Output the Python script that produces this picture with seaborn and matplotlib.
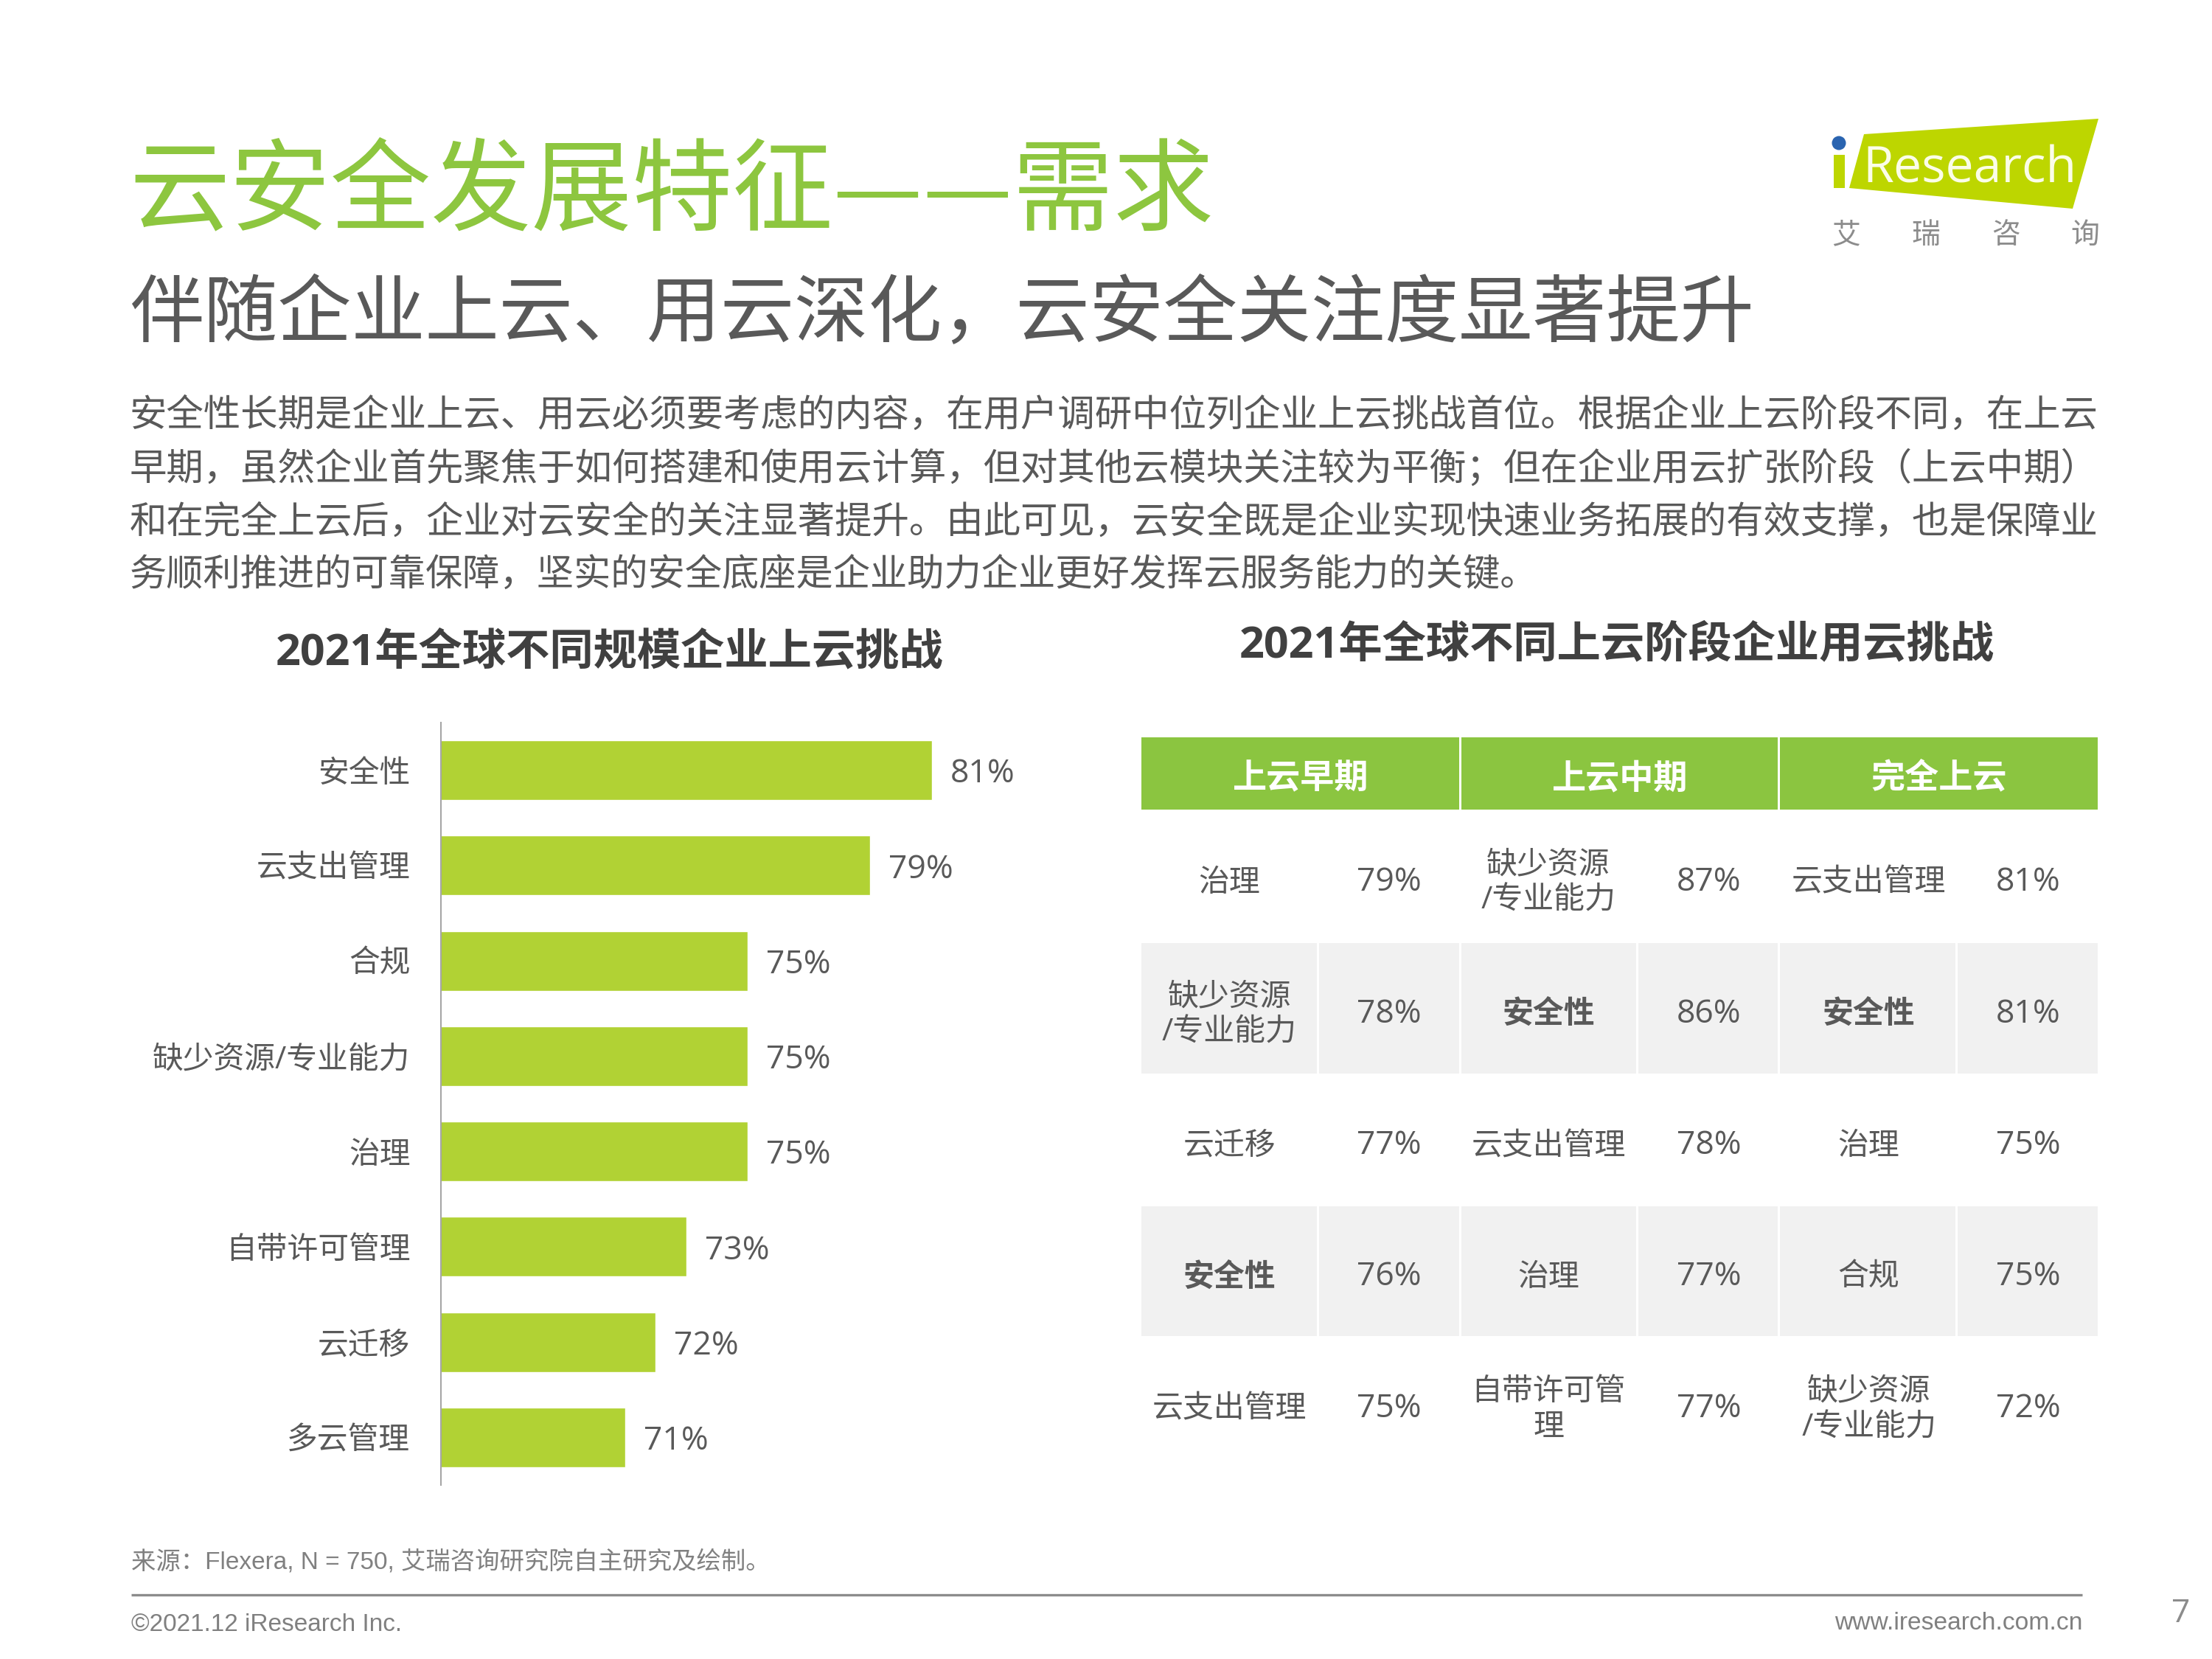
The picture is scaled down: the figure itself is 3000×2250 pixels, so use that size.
import matplotlib
matplotlib.use("Agg")
import matplotlib.pyplot as plt
from matplotlib.patches import Rectangle, Polygon, Circle
import seaborn as sns

sns.set_theme(style="white")
CJK = ['Open Sans', 'Noto Sans CJK SC', 'DejaVu Sans']
ARIAL = ['Liberation Sans', 'Noto Sans CJK SC', 'DejaVu Sans']
plt.rcParams['font.family'] = CJK

# ---------- data ----------
title = "云安全发展特征——需求"
subtitle = "伴随企业上云、用云深化，云安全关注度显著提升"
paragraph = [
    "安全性长期是企业上云、用云必须要考虑的内容，在用户调研中位列企业上云挑战首位。根据企业上云阶段不同，在上云",
    "早期，虽然企业首先聚焦于如何搭建和使用云计算，但对其他云模块关注较为平衡；但在企业用云扩张阶段（上云中期）",
    "和在完全上云后，企业对云安全的关注显著提升。由此可见，云安全既是企业实现快速业务拓展的有效支撑，也是保障业",
    "务顺利推进的可靠保障，坚实的安全底座是企业助力企业更好发挥云服务能力的关键。",
]
left_title = "2021年全球不同规模企业上云挑战"
right_title = "2021年全球不同上云阶段企业用云挑战"
categories = ["安全性", "云支出管理", "合规", "缺少资源/专业能力", "治理", "自带许可管理", "云迁移", "多云管理"]
values = [81, 79, 75, 75, 75, 73, 72, 71]

stages = ["上云早期", "上云中期", "完全上云"]
early_items = ["治理", "缺少资源\n/专业能力", "云迁移", "安全性", "云支出管理"]
early_pct = [79, 78, 77, 76, 75]
mid_items = ["缺少资源\n/专业能力", "安全性", "云支出管理", "治理", "自带许可管\n理"]
mid_pct = [87, 86, 78, 77, 77]
full_items = ["云支出管理", "安全性", "治理", "合规", "缺少资源\n/专业能力"]
full_pct = [81, 81, 75, 75, 72]

source = "来源：Flexera, N = 750, 艾瑞咨询研究院自主研究及绘制。"
copyright_text = "©2021.12 iResearch Inc."
website = "www.iresearch.com.cn"
page = "7"

# ---------- colours ----------
TITLE_GREEN = "#8dc63f"
DARK = "#595959"
HEAD = "#404040"
BAR = "#b1d234"
HEADER = "#8bc540"
ROW = "#f1f1f1"
FOOT = "#808080"

# ---------- canvas ----------
W, H = 3000, 2250
fig = plt.figure(figsize=(W / 100, H / 100), dpi=100, facecolor="white")
bg = fig.add_axes([0, 0, 1, 1], zorder=0)
bg.set_xlim(0, W)
bg.set_ylim(H, 0)
bg.axis("off")


def T(x, y, s, size, color=DARK, ha="left", va="center", weight="normal", family=None, fit=None, **kw):
    t = bg.text(x, y, s, fontsize=size, color=color, ha=ha, va=va, weight=weight,
                family=family if family else CJK, **kw)
    if fit:
        r = fig.canvas.get_renderer()
        w = t.get_window_extent(r).width
        t.set_fontsize(size * fit / w)
    return t


# ---------- header text ----------
T(175, 264, title, 96, TITLE_GREEN, fit=1472, family=['Noto Sans CJK SC', 'DejaVu Sans'])
T(176, 430, subtitle, 72, DARK, fit=2204)
for y, line, fit in zip([565, 637, 710, 781], paragraph, [2672, 2672, 2672, None]):
    T(176, y, line, 36.2, DARK, fit=fit)
T(827, 886, left_title, 42.7, HEAD, ha="center", weight="bold")
T(2193, 876, right_title, 42.7, HEAD, ha="center", weight="bold")

# ---------- logo ----------
bg.add_patch(Polygon([(2528, 182), (2846, 161), (2811, 283), (2508, 255)], closed=True, fc="#bdd600", ec="none"))
bg.add_patch(Rectangle((2487, 210), 15, 45, fc="#bdd600", ec="none"))
bg.add_patch(Circle((2494, 194), 9.5, fc="#2a64b0", ec="none"))
T(2526, 247, "Research", 49, "#fbfde8", va="baseline", family=['Open Sans'], fit=290)
for x, ch in zip([2504, 2612, 2721, 2828], "艾瑞咨询"):
    T(x, 319, ch, 28, "#8c8c8c", ha="center", family=['Noto Sans CJK SC'])

# ---------- bar chart ----------
left, right, top, bottom = 598, 598 + 41.6 * 17, 980, 2014
ax = fig.add_axes([left / W, 1 - bottom / H, (right - left) / W, (bottom - top) / H], zorder=2)
ax.patch.set_alpha(0)
sns.barplot(x=values, y=categories, color=BAR, saturation=1, width=0.625, ax=ax, orient="h")
ax.set_xlim(65, 82)
ax.set_ylim(len(categories) - 0.5, -0.5)
for c in ax.containers:
    labels = ax.bar_label(c, labels=[f"{v}%" for v in values], padding=18, fontsize=32, color=DARK, family=CJK)
    for t in labels:
        t.xyann = (18, -4)
ax.set_xticks([])
ax.set_xlabel("")
ax.set_ylabel("")
ax.tick_params(axis="y", length=0, pad=30, labelsize=30.1, labelcolor=DARK)
sns.despine(ax=ax, top=True, right=True, bottom=True, left=False)
ax.spines["left"].set_color("#a6a6a6")
ax.spines["left"].set_linewidth(1.5)

# ---------- table ----------
col_edges = [1548, 1787, 1980, 2220, 2412, 2653, 2845]
row_edges = [1098, 1279, 1456, 1636, 1812, 1990]
gap = 3
for i, stage in enumerate(stages):
    x0, x1 = col_edges[2 * i], col_edges[2 * i + 2]
    x0 += gap / 2 if i > 0 else 0
    x1 -= gap / 2 if i < 2 else 0
    bg.add_patch(Rectangle((x0, 1000), x1 - x0, 98, fc=HEADER, ec="none"))
    T((x0 + x1) / 2, 1057, stage, 33.2, "white", ha="center", weight="bold")
for r in (1, 3):
    for c in range(6):
        x0, x1 = col_edges[c], col_edges[c + 1]
        x0 += gap / 2 if c > 0 else 0
        x1 -= gap / 2 if c < 5 else 0
        bg.add_patch(Rectangle((x0, row_edges[r]), x1 - x0,
                               row_edges[r + 1] - row_edges[r], fc=ROW, ec="none"))
columns = [(early_items, early_pct), (mid_items, mid_pct), (full_items, full_pct)]
for g, (items, pct) in enumerate(columns):
    cx0 = (col_edges[2 * g] + col_edges[2 * g + 1]) / 2 + (2 if g == 2 else 0)
    cx1 = (col_edges[2 * g + 1] + col_edges[2 * g + 2]) / 2 + (2 if g > 0 else 0)
    for r in range(5):
        cy = (row_edges[r] + row_edges[r + 1]) / 2 + 8 + (3 if r == 4 else 1)
        bold = items[r] == "安全性"
        T(cx0, cy, items[r], 30.2, DARK, ha="center", weight="bold" if bold else "normal",
          linespacing=1.2, multialignment="center")
        T(cx1, cy - 1, f"{pct[r]}%", 32, DARK, ha="center")

# ---------- footer ----------
T(178, 2118, source, 24, FOOT, family=ARIAL)
bg.plot([178, 2824], [2163, 2163], color="#8c8c8c", lw=2.4, solid_capstyle="butt")
T(178, 2203, copyright_text, 24, FOOT, family=ARIAL)
T(2824, 2202, website, 24.2, FOOT, ha="right", family=ARIAL)
T(2958, 2189, page, 32, "#8c8c8c", ha="center", family=['Open Sans'])

fig.savefig("out.png", dpi=100, facecolor="white")
